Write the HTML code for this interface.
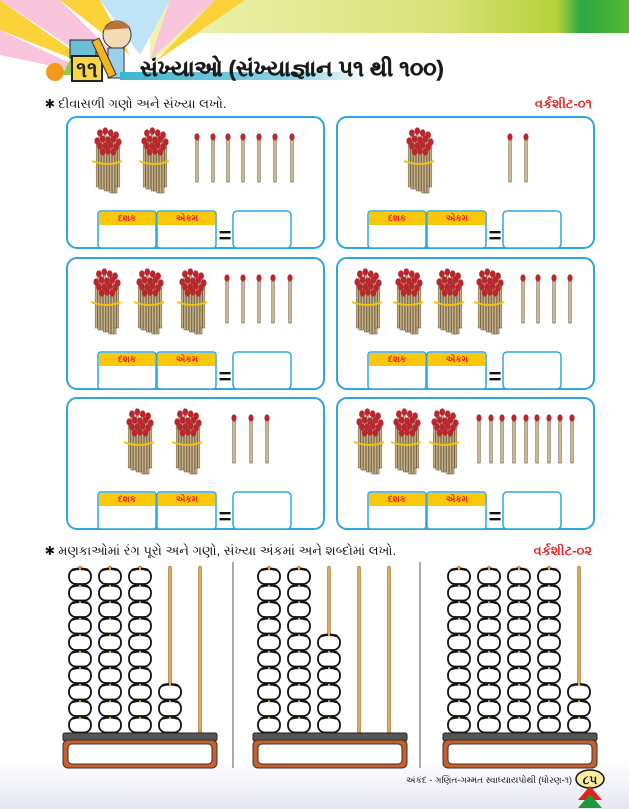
<!DOCTYPE html>
<html><head><meta charset="utf-8"><style>
body{margin:0;width:629px;height:809px;overflow:hidden;background:#fff;font-family:"Liberation Sans","Noto Sans CJK SC",sans-serif}
svg{display:block}
</style></head><body>
<svg id="s" width="629" height="809" viewBox="0 0 629 809" xmlns="http://www.w3.org/2000/svg">
<defs>
<linearGradient id="top" x1="0" x2="1"><stop offset="0" stop-color="#eef3b0"/><stop offset="0.6" stop-color="#d9e27a"/><stop offset="0.85" stop-color="#b6d03a"/><stop offset="0.9" stop-color="#2aa845"/><stop offset="1" stop-color="#55b830"/></linearGradient>
<linearGradient id="ul" x1="0" x2="1"><stop offset="0" stop-color="#3bb6d0"/><stop offset="0.7" stop-color="#8fd3e3"/><stop offset="1" stop-color="#fff"/></linearGradient>
<linearGradient id="bot" x1="0" y1="0" x2="0" y2="1"><stop offset="0" stop-color="#fff"/><stop offset="1" stop-color="#e6e6f3"/></linearGradient>
</defs>
<rect x="0" y="760" width="629" height="49" fill="url(#bot)"/>
<polygon points="150,0 629,0 629,33 200,33 150,60" fill="url(#top)"/>
<polygon points="0,0 60,0 120,60 105,70" fill="#f8c5dc"/>
<polygon points="60,0 100,0 130,55" fill="#fbd23a"/>
<polygon points="100,0 170,0 140,55" fill="#bfe3f7"/>
<polygon points="170,0 215,0 150,60" fill="#f8c5dc"/>
<polygon points="0,0 0,30 100,70" fill="#fbd23a"/>
<polygon points="215,0 245,0 155,62" fill="#fbd23a"/>
<polygon points="0,30 0,55 95,75" fill="#f8c5dc"/>
<circle cx="55" cy="72" r="9" fill="#f39a1e"/>
<polygon points="62,75 75,50 88,75" fill="#9cc64a"/>
<rect x="70" y="40" width="26" height="18" fill="#6cbfd7" stroke="#222"/>
<rect x="72" y="56" width="30" height="25" fill="#f7d64a" stroke="#222" stroke-width="2"/>
<text x="87" y="77" font-size="22" font-weight="bold" text-anchor="middle" fill="#222">૧૧</text>
<circle cx="117" cy="35" r="14" fill="#f6d9b5" stroke="#333"/>
<path d="M103,30 Q117,12 131,28" fill="#b8733a"/>
<rect x="108" y="48" width="16" height="30" fill="#9ed0ec" stroke="#333"/>
<rect x="100" y="38" width="8" height="40" fill="#f2b520" stroke="#333" transform="rotate(-25 104 58)"/>
<rect x="120" y="72" width="250" height="8" fill="url(#ul)"/>
<text x="140" y="76" font-size="22" font-weight="bold" fill="#1a1a1a" stroke="#1a1a1a" stroke-width="0.4">સંખ્યાઓ (સંખ્યાજ્ઞાન ૫૧ થી ૧૦૦)</text>
<text x="45" y="108" font-size="13" fill="#111">✱ દીવાસળી ગણો અને સંખ્યા લખો.</text>
<text x="592" y="108" font-size="13" fill="#e3262a" text-anchor="end" font-weight="bold">વર્કશીટ-૦૧</text>
<text x="45" y="555" font-size="13" fill="#111">✱ મણકાઓમાં રંગ પૂરો અને ગણો, સંખ્યા અંકમાં અને શબ્દોમાં લખો.</text>
<text x="592" y="555" font-size="13" fill="#e3262a" text-anchor="end" font-weight="bold">વર્કશીટ-૦૨</text>
<g id="boxes"></g>
<g id="ab"></g>
<line x1="233" y1="562" x2="233" y2="768" stroke="#aaa" stroke-width="2"/>
<line x1="420" y1="562" x2="420" y2="768" stroke="#aaa" stroke-width="2"/>
<text x="572" y="783" font-size="9" fill="#111" text-anchor="end">અંકંદ - ગણિત-ગમ્મત સ્વાધ્યાયપોથી (ધોરણ-૧)</text>
<ellipse cx="590" cy="779" rx="14" ry="9" fill="#fbeea0" stroke="#111" stroke-width="1.5"/>
<text x="590" y="784" font-size="12" font-weight="bold" text-anchor="middle" fill="#111">૮૫</text>
<polygon points="578,800 590,786 602,800" fill="#d22"/>
<polygon points="578,808 590,794 602,808" fill="#1a9a3a"/>
<g id="labels">
<g font-size="9" font-weight="bold" fill="#e3262a" text-anchor="middle">
<text x="127" y="221">દશક</text><text x="187" y="221">એકમ</text>
<text x="397" y="221">દશક</text><text x="457" y="221">એકમ</text>
<text x="127" y="362">દશક</text><text x="187" y="362">એકમ</text>
<text x="397" y="362">દશક</text><text x="457" y="362">એકમ</text>
<text x="127" y="502">દશક</text><text x="187" y="502">એકમ</text>
<text x="397" y="502">દશક</text><text x="457" y="502">એકમ</text>
</g>
<g font-size="22" font-weight="bold" fill="#111" text-anchor="middle">
<text x="225" y="243">=</text><text x="495" y="243">=</text>
<text x="225" y="384">=</text><text x="495" y="384">=</text>
<text x="225" y="524">=</text><text x="495" y="524">=</text>
</g>
</g>
</svg>
<script>
var NS="http://www.w3.org/2000/svg";
function el(p,t,a){var e=document.createElementNS(NS,t);for(var k in a)e.setAttribute(k,a[k]);p.appendChild(e);return e;}
var B=document.getElementById("boxes");
var boxes=[
 [67,117,[108,155],[197,213,228,243,259,275,292]],
 [337,117,[420],[510,526]],
 [67,258,[107,150,193],[227,243,259,273,290]],
 [337,258,[368,409,450,490],[523,538,554,570]],
 [67,398,[140,188],[234,251,267]],
 [337,398,[370,407,445],[479,491,502,514,526,537,549,560,572]]
];
var heads=[[-9,0],[-3,-2],[3,0],[9,2],[-12,8],[-6,6],[0,7],[6,6],[12,9],[-9,13],[-3,13],[3,12],[9,14],[-6,19],[0,18],[6,19]];
boxes.forEach(function(b){
 var x=b[0],y=b[1],h=131;
 el(B,"rect",{x:x,y:y,width:257,height:h,rx:10,fill:"#fff",stroke:"#2ea6df","stroke-width":2});
 var tx=x+31,ty=y+94;
 el(B,"rect",{x:tx,y:ty,width:58,height:h-94,fill:"#fff",stroke:"#2ea6df","stroke-width":1.5,rx:3});
 el(B,"rect",{x:tx+59,y:ty,width:59,height:h-94,fill:"#fff",stroke:"#2ea6df","stroke-width":1.5,rx:3});
 el(B,"rect",{x:tx+1,y:ty+1,width:56,height:13,fill:"#fbc70a"});
 el(B,"rect",{x:tx+60,y:ty+1,width:57,height:13,fill:"#fbc70a"});
 el(B,"rect",{x:x+166,y:ty,width:58,height:h-94,fill:"#fff",stroke:"#2ea6df","stroke-width":1.5,rx:4});
 b[2].forEach(function(cx){
  heads.forEach(function(p,i){var sx=cx+p[0]*0.9,top=y+16+p[1];
   el(B,"rect",{x:sx-1,y:top,width:2,height:y+70+(i%4)*2-top,fill:"#c9b48a",stroke:"#6b5a3a","stroke-width":0.5});});
  heads.forEach(function(p){var sx=cx+p[0]*0.9,top=y+16+p[1];
   el(B,"ellipse",{cx:sx,cy:top,rx:2.8,ry:3.6,fill:"#b8262e"});});
  el(B,"path",{d:"M"+(cx-16)+","+(y+44)+" Q"+cx+","+(y+50)+" "+(cx+14)+","+(y+44),stroke:"#f2c40c","stroke-width":2,fill:"none"});
 });
 b[3].forEach(function(sx){
  el(B,"rect",{x:sx-1.2,y:y+20,width:2.4,height:45,fill:"#d6c49a",stroke:"#5a4a30","stroke-width":0.6});
  el(B,"ellipse",{cx:sx,cy:y+20,rx:2.6,ry:3.6,fill:"#b8262e"});
 });
});
var A=document.getElementById("ab");
var abs=[[63,[80,110,140,170,200],[10,10,10,3,0]],[253,[269,299,329,359,389],[10,10,6,0,0]],[443,[459,489,519,549,579],[10,10,10,10,3]]];
abs.forEach(function(a){
 var bx=a[0];
 a[1].forEach(function(rx,i){
  el(A,"rect",{x:rx-1.5,y:566,width:3,height:170,fill:"#e0a85a",stroke:"#8a6020","stroke-width":0.5,rx:1.5});
  for(var k=0;k<a[2][i];k++){var cy=725-k*16.5;
   el(A,"rect",{x:rx-11,y:cy-7.5,width:22,height:15,rx:7,fill:"#fff",stroke:"#111","stroke-width":1.8});
   el(A,"path",{d:"M"+(rx-8)+","+(cy-6.5)+" Q"+rx+","+(cy-9)+" "+(rx+8)+","+(cy-6.5),stroke:"#111","stroke-width":2.5,fill:"none"});
   el(A,"rect",{x:rx-1,y:cy-9,width:2,height:3,fill:"#e0a85a"});}
 });
 el(A,"rect",{x:bx,y:733,width:154,height:8,fill:"#555",stroke:"#222",rx:2});
 el(A,"rect",{x:bx,y:740,width:154,height:28,fill:"#c8602a",stroke:"#333",rx:5});
 el(A,"rect",{x:bx+5,y:744,width:144,height:20,fill:"#fff",stroke:"#333",rx:4});
});
</script>
</body></html>
